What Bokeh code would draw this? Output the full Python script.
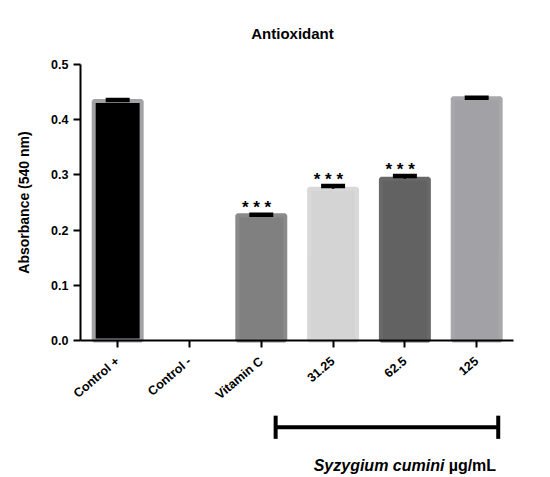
import math

from bokeh.core.properties import value
from bokeh.embed import file_html
from bokeh.models import ColumnDataSource, FixedTicker, LinearAxis, Range1d
from bokeh.plotting import figure
from bokeh.resources import INLINE

# ---- data -------------------------------------------------------------
categories = ["Control +", "Control -", "Vitamin C", "31.25", "62.5", "125"]
absorbance = [0.434, math.nan, 0.227, 0.275, 0.293, 0.439]
sd = [0.002, math.nan, 0.001, 0.005, 0.005, 0.001]
significance = ["", "", "***", "***", "***", ""]
y_ticks = [0.0, 0.1, 0.2, 0.3, 0.4, 0.5]

# ---- styles -----------------------------------------------------------
fill_colors = ["#000000", "#ffffff", "#808080", "#d4d4d4", "#626262", "#a2a1a5"]
edge_colors = ["#a2a1a5", "#ffffff", "#8a8a8a", "#d9d9d9", "#686868", "#a8a7ab"]
FONT = "Liberation Sans"

W, H = 550, 477
p = figure(
    width=W, height=H, output_backend="svg", toolbar_location=None,
    x_range=Range1d(-1.632, 6.028), y_range=Range1d(-0.248, 0.616),
    x_axis_type=None, y_axis_type=None, title=None, min_border=0,
)
p.outline_line_color = None
p.xgrid.visible = False
p.ygrid.visible = False
p.background_fill_color = "white"

xs = list(range(len(categories)))
shown = [i for i, v in enumerate(absorbance) if not math.isnan(v)]

bars = ColumnDataSource(dict(
    x=[xs[i] for i in shown],
    top=[absorbance[i] for i in shown],
    upper=[absorbance[i] + sd[i] for i in shown],
    fill=[fill_colors[i] for i in shown],
    edge=[edge_colors[i] for i in shown],
))

BAR_W = 0.668
p.vbar(x="x", top="top", bottom=0, width=BAR_W, fill_color="fill",
       line_color="edge", line_width=4, source=bars)

# upward error bars (mean -> mean + SD) with a heavy cap
p.segment(x0="x", y0="top", x1="x", y1="upper", line_color="black",
          line_width=2.5, source=bars)
CAP = 0.167
cap_src = ColumnDataSource(dict(
    x0=[xs[i] - CAP for i in shown], x1=[xs[i] + CAP for i in shown],
    y=[absorbance[i] + sd[i] for i in shown],
))
p.segment(x0="x0", y0="y", x1="x1", y1="y", line_color="black",
          line_width=4.5, line_cap="butt", source=cap_src)

# significance stars above the error bars
star_idx = [i for i in shown if significance[i]]
p.text(x=[xs[i] for i in star_idx], y=[absorbance[i] + sd[i] for i in star_idx],
       text=["  ".join(significance[i]) for i in star_idx],
       text_align="center", text_baseline="alphabetic", y_offset=-7,
       text_font=value(FONT), text_font_style="bold", text_font_size="17px",
       text_color="black")

# ---- axes -------------------------------------------------------------
yaxis = LinearAxis(fixed_location=-0.518, bounds=(0, 0.5),
                   ticker=FixedTicker(ticks=y_ticks, minor_ticks=[]))
yaxis.major_label_overrides = {t: f"{t:.1f}" for t in y_ticks}
yaxis.axis_label = "Absorbance (540 nm)"
yaxis.axis_label_text_font = FONT
yaxis.axis_label_text_font_style = "bold"
yaxis.axis_label_text_font_size = "14px"
yaxis.axis_label_text_color = "black"
yaxis.axis_label_standoff = 16
p.add_layout(yaxis, "left")

xaxis = LinearAxis(fixed_location=0, bounds=(-0.518, 5.51),
                   ticker=FixedTicker(ticks=xs, minor_ticks=[]))
xaxis.major_label_overrides = {x: c for x, c in zip(xs, categories)}
xaxis.major_label_orientation = 0.7
p.add_layout(xaxis, "below")

for ax in (xaxis, yaxis):
    ax.axis_line_color = "black"
    ax.axis_line_width = 2
    ax.major_tick_line_color = "black"
    ax.major_tick_line_width = 2
    ax.major_tick_out = 7
    ax.major_tick_in = 0
    ax.minor_tick_line_color = None
    ax.major_label_text_font = FONT
    ax.major_label_text_font_style = "bold"
    ax.major_label_text_font_size = "12.5px"
    ax.major_label_text_color = "black"
    ax.major_label_standoff = 5
xaxis.major_label_standoff = 12

# ---- title ------------------------------------------------------------
p.text(x=[2.435], y=[0.556], text=["Antioxidant"], text_align="center",
       text_baseline="middle", text_font=value(FONT), text_font_style="bold",
       text_font_size="15px", text_color="black")

# ---- bracket grouping the Syzygium cumini doses -------------------------
group_start = categories.index("31.25") - 0.8
group_end = categories.index("125") + 0.3
bracket_y = -0.157
p.segment(x0=[group_start], y0=[bracket_y], x1=[group_end], y1=[bracket_y],
          line_color="black", line_width=4, line_cap="butt")
p.segment(x0=[group_start, group_end], y0=[bracket_y - 0.021] * 2,
          x1=[group_start, group_end], y1=[bracket_y + 0.021] * 2,
          line_color="black", line_width=4, line_cap="butt")

label_y = -0.226
split_x = 4.55
p.text(x=[split_x], y=[label_y], text=["Syzygium cumini"], text_align="right",
       text_baseline="middle", text_font=value(FONT),
       text_font_style="bold italic", text_font_size="16px", text_color="black")
p.text(x=[split_x + 0.06], y=[label_y], text=["µg/mL"], text_align="left",
       text_baseline="middle", text_font=value(FONT),
       text_font_style="bold", text_font_size="16px", text_color="black")

open("out.html", "w").write(file_html(p, INLINE))
